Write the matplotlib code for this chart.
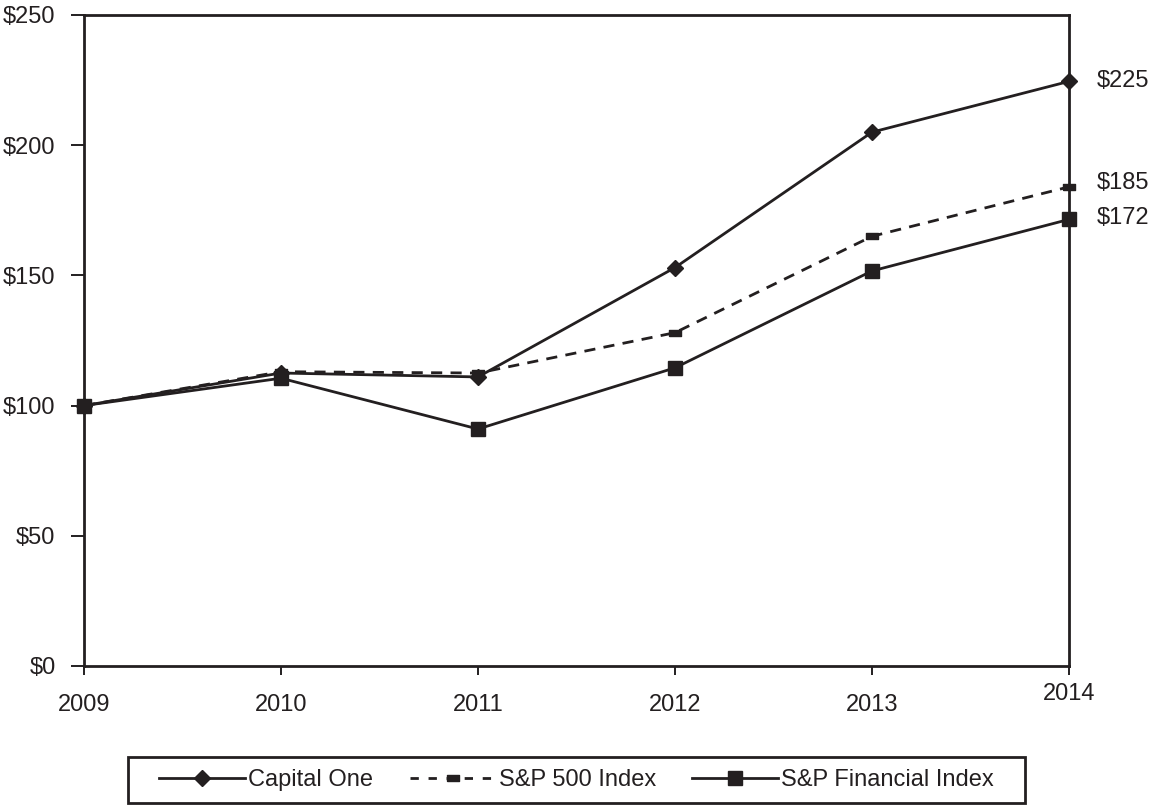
import matplotlib
matplotlib.use("Agg")
import matplotlib.pyplot as plt
from matplotlib.lines import Line2D
from matplotlib.patches import Rectangle

plt.rcParams['font.family'] = ['Liberation Sans', 'DejaVu Sans']

years = [2009, 2010, 2011, 2012, 2013, 2014]
capital_one = [100, 112.5, 111, 153, 205, 224.5]
sp500 = [100, 113, 112.5, 128, 165, 184]
sp_fin = [100, 110.5, 91, 114.5, 151.7, 171.5]
end_labels = ["$225", "$185", "$172"]
end_label_vals = [224.5, 185.5, 172]
yticks = [0, 50, 100, 150, 200, 250]
ytick_labels = ["$0", "$50", "$100", "$150", "$200", "$250"]

C = '#231f20'
FS = 17
rect = [(-1, -0.6), (1, -0.6), (1, 0.6), (-1, 0.6), (-1, -0.6)]

fig = plt.figure(figsize=(11.49, 8.05), dpi=100)
ax = fig.add_axes([0.0731, 0.1727, 0.8573, 0.8087])

ax.plot(years, capital_one, color=C, lw=2, marker='D', ms=8.5, mfc=C, mec=C,
        label='Capital One', clip_on=False, zorder=3)
ax.plot(years, sp500, color=C, lw=2, ls=(0, (4, 3)), marker=rect, ms=8, mfc=C, mec=C,
        label='S&P 500 Index', clip_on=False, zorder=3)
ax.plot(years, sp_fin, color=C, lw=2, marker='s', ms=10, mfc=C, mec=C,
        label='S&P Financial Index', clip_on=False, zorder=3)

ax.set_xlim(2009, 2014)
ax.set_ylim(0, 250)
ax.set_xticks(years)
ax.set_xticklabels([str(y) for y in years])
ax.set_yticks(yticks)
ax.set_yticklabels(ytick_labels)
ax.tick_params(axis='both', labelsize=FS, colors=C, width=1.4)
ax.tick_params(axis='y', length=9.5, direction='out', pad=11)
ax.tick_params(axis='x', length=6.5, direction='out', pad=14)
ax.xaxis.get_major_ticks()[-1].set_pad(5.5)
for s in ax.spines.values():
    s.set_linewidth(2)
    s.set_color(C)

for lab, v in zip(end_labels, end_label_vals):
    ax.annotate(lab, xy=(2014, v), xytext=(20, 0), textcoords='offset points',
                ha='left', va='center', fontsize=FS, color=C, annotation_clip=False)

handles = [
    Line2D([], [], color=C, lw=2, marker='D', ms=8.5),
    Line2D([], [], color=C, lw=2, ls=(0, (3, 3.5)), marker=rect, ms=8),
    Line2D([], [], color=C, lw=2, marker='s', ms=9.5),
]
leg = fig.legend(handles, ['Capital One', 'S&P 500 Index', 'S&P Financial Index'],
                 loc='center', bbox_to_anchor=(0.5018, 0.031), ncol=3, fontsize=FS,
                 frameon=False, handlelength=3.64,
                 handletextpad=0.13, columnspacing=1.55, borderpad=0.4)
for t in leg.get_texts():
    t.set_color(C)

fig.patches.append(Rectangle((128 / 1149, 2 / 805), 897 / 1149, 46 / 805,
                             transform=fig.transFigure, fill=False,
                             edgecolor=C, linewidth=2))

fig.savefig('out.png', dpi=100)
